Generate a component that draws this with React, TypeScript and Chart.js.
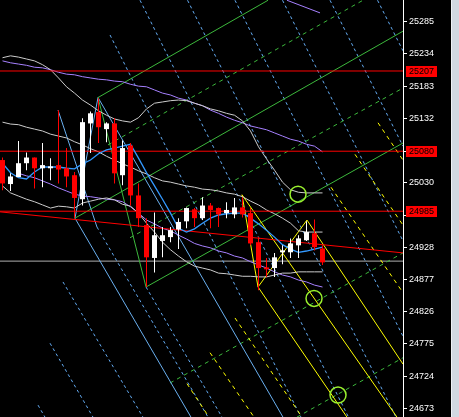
import React, { useEffect, useRef } from 'react';
import { Chart, registerables } from 'chart.js';

Chart.register(...registerables);

// ---- candles (bar index 0..40) ----
const OPEN = [25066, 25028, 25039, 25061, 25070, 25053, 25053, 25058, 25053, 25042, 25004, 25124, 25142, 25115, 25124, 25042, 25089, 25010, 24963, 24911, 24938, 24944, 24956, 24969, 24988, 24974, 24994, 24990, 24982, 24980, 24991, 24982, 24936, 24896, 24895, 24920, 24920, 24931, 24939, 24950, 24926];
const HIGH = [25070, 25045, 25096, 25078, 25070, 25093, 25069, 25145, 25085, 25047, 25132, 25143, 25164, 25126, 25132, 25097, 25093, 25029, 24974, 24983, 24960, 24960, 24974, 24991, 24990, 25007, 24998, 24991, 24999, 25006, 25007, 24990, 24944, 24911, 24919, 24931, 24942, 24947, 24969, 24972, 24931];
const LOW = [25018, 25017, 25039, 25050, 25021, 25023, 25034, 25029, 25023, 24974, 24994, 25077, 25093, 25094, 25029, 25026, 24994, 24960, 24865, 24888, 24912, 24936, 24925, 24958, 24960, 24971, 24958, 24960, 24974, 24974, 24975, 24931, 24860, 24881, 24881, 24901, 24911, 24911, 24938, 24923, 24900];
const CLOSE = [25029, 25040, 25061, 25070, 25053, 25058, 25056, 25051, 25040, 25006, 25126, 25140, 25118, 25124, 25045, 25085, 25010, 24974, 24912, 24947, 24947, 24955, 24968, 24990, 24974, 24994, 24987, 24980, 24987, 24991, 24980, 24934, 24895, 24893, 24912, 24923, 24934, 24942, 24952, 24928, 24904];

// ---- indicator series (one value per bar) ----
const MA_FAST = [25061, 25046, 25038, 25036, 25047, 25055, 25055, 25055, 25053, 25052, 25060, 25066, 25076, 25082, 25085, 25088, 25091, 25069, 25046, 25025, 25004, 24982, 24958, 24952, 24957, 24966, 24974, 24979, 24981, 24982, 24982, 24974, 24965, 24955, 24944, 24932, 24925, 24920, 24922, 24925, 24928];
const BAND_UPPER = [25228, 25231, 25229, 25226, 25223, 25217, 25209, 25196, 25182, 25172, 25161, 25153, 25144, 25137, 25131, 25128, 25126, 25133, 25147, 25156, 25158, 25160, 25161, 25160, 25156, 25152, 25147, 25144, 25140, 25137, 25128, 25112, 25087, 25068, 25050, 25031, 25019, 25015, 25014, 25014, 25014];
const BAND_MID = [25126, 25123, 25122, 25118, 25115, 25112, 25107, 25104, 25101, 25095, 25090, 25084, 25079, 25072, 25066, 25060, 25055, 25049, 25044, 25038, 25033, 25031, 25028, 25025, 25023, 25020, 25019, 25017, 25014, 25012, 25008, 25001, 24995, 24987, 24981, 24974, 24966, 24954, 24952, 24952, 24952];
const BAND_LOWER = [25025, 25014, 25009, 25004, 25000, 24995, 24990, 24993, 24992, 24990, 24998, 25001, 25004, 25006, 25003, 24996, 24993, 24982, 24966, 24952, 24936, 24924, 24914, 24905, 24898, 24895, 24892, 24887, 24886, 24884, 24882, 24882, 24881, 24881, 24884, 24887, 24887, 24889, 24889, 24889, 24889];
const ENV_UPPER = [25223, 25220, 25218, 25216, 25213, 25212, 25209, 25205, 25202, 25201, 25198, 25196, 25194, 25193, 25191, 25190, 25186, 25183, 25182, 25177, 25172, 25169, 25164, 25161, 25156, 25152, 25145, 25140, 25134, 25129, 25125, 25120, 25117, 25114, 25109, 25104, 25099, 25096, 25091, 25088, 25079];
const ENV_LOWER = [null, null, 25045, 25041, 25038, 25033, 25028, 25022, 25017, 25012, 25009, 25008, 25006, 25004, 25003, 25000, 24992, 24982, 24971, 24965, 24958, 24954, 24947, 24941, 24934, 24930, 24927, 24922, 24919, 24914, 24911, 24905, 24900, 24895, 24889, 24884, 24881, 24876, 24873, 24868, 24865];

// ---- axis ----
const Y_TICKS = [25285, 25234, 25183, 25132, 25080, 25030, 24979, 24928, 24877, 24826, 24775, 24724, 24673];
const Y_MIN = 24659.2;
const Y_MAX = 25319.4;
const X_MIN = -0.3125;
const X_MAX = 50.0625;

// ---- horizontal levels ----
const RED_LEVELS = [25207, 25080, 24985];
const GRAY_LEVELS = [24906];

// ---- trend objects: [barIndex, price] endpoints ----
const RED_TREND = [[[-0.31, 24984], [50.06, 24919]]];
const BLUE_SOLID = [
  [[6.94, 25145], [11.81, 24960]],
  [[9.06, 24974], [11.94, 25165]],
  [[11.94, 25165], [35.06, 24659]],
  [[9.06, 24974], [23.56, 24659]],
];
const BLUE_DASHED = [
  [[11.81, 24960], [25.69, 24659]],
  [[7.56, 24873], [17.56, 24659]],
  [[5.94, 24776], [11.31, 24659]],
  [[4.44, 24678], [5.31, 24659]],
  [[17.94, 24865], [27.44, 24659]],
  [[13.44, 25264], [37.31, 24659]],
  [[17.19, 25319], [43.25, 24659]],
  [[23.13, 25319], [49.19, 24659]],
  [[29.06, 25319], [50.06, 24787]],
  [[35.0, 25319], [50.06, 24938]],
  [[40.94, 25319], [50.06, 25088]],
  [[46.88, 25319], [50.06, 25239]],
];
const GREEN_SOLID = [
  [[11.94, 25165], [17.94, 24865]],
  [[11.94, 25165], [33.19, 25319]],
  [[9.06, 24974], [50.06, 25270]],
  [[17.94, 24865], [50.06, 25093]],
];
const GREEN_DASHED = [
  [[13.19, 25090], [45.06, 25319]],
  [[15.94, 24943], [50.06, 25180]],
  [[20.94, 24713], [50.06, 24919]],
  [[36.81, 24659], [50.06, 24753]],
];
const YELLOW_SOLID = [
  [[29.94, 25011], [31.94, 24865]],
  [[31.94, 24865], [38.06, 24971]],
  [[29.94, 25011], [49.31, 24659]],
  [[38.06, 24971], [50.06, 24743]],
  [[31.94, 24865], [43.06, 24659]],
];
const YELLOW_DASHED = [
  [[41.06, 25023], [50.06, 24856]],
  [[44.06, 25075], [50.06, 24963]],
  [[46.94, 25125], [50.06, 25066]],
  [[29.06, 24816], [37.44, 24659]],
  [[25.94, 24761], [31.44, 24659]],
  [[23.06, 24712], [25.81, 24659]],
];
const PURPLE_SEG = [[[35.56, 25319], [39.69, 25299]]];
const CIRCLES = [[36.94, 25012], [38.94, 24847], [41.94, 24694]];

const FONT = { family: '"Liberation Sans", Arial, sans-serif', size: 9 };

function segs(list: number[][][], color: string, dash: number[], order: number) {
  return list.map((pts) => ({
    type: 'line',
    data: pts.map(([x, y]) => ({ x, y })),
    borderColor: color,
    borderWidth: 1,
    borderDash: dash,
    pointRadius: 0,
    fill: false,
    tension: 0,
    order,
  }));
}

function series(vals: (number | null)[], color: string, order: number, width = 1) {
  return {
    type: 'line',
    data: vals.map((v, i) => ({ x: i, y: v })),
    borderColor: color,
    borderWidth: width,
    pointRadius: 0,
    fill: false,
    tension: 0,
    spanGaps: false,
    order,
  };
}

function levels(vals: number[], color: string, order: number) {
  return vals.map((v) => ({
    type: 'line',
    data: [{ x: X_MIN, y: v }, { x: X_MAX, y: v }],
    borderColor: color,
    borderWidth: 1,
    pointRadius: 0,
    fill: false,
    order,
  }));
}

const chromePlugin = {
  id: 'chrome',
  beforeDraw(chart: any) {
    const { ctx, width, height, chartArea } = chart;
    ctx.save();
    ctx.fillStyle = '#000000';
    ctx.fillRect(0, 0, width, height);
    ctx.fillStyle = '#d2d8e1';
    ctx.fillRect(chartArea.right + 49, 0, width, height);
    ctx.fillStyle = '#eef1f5';
    ctx.fillRect(chartArea.right + 48, 0, 1, height);
    ctx.restore();
  },
  afterDraw(chart: any) {
    const { ctx, chartArea } = chart;
    const ys = chart.scales.y;
    ctx.save();
    ctx.font = `${FONT.size}px ${FONT.family}`;
    ctx.textBaseline = 'middle';
    ctx.textAlign = 'left';
    RED_LEVELS.forEach((v) => {
      const py = Math.round(ys.getPixelForValue(v));
      ctx.fillStyle = '#ff0000';
      ctx.fillRect(chartArea.right + 3, py - 5, 31, 11);
      ctx.fillStyle = '#000000';
      ctx.fillText(String(v), chartArea.right + 6, py + 0.5);
    });
    ctx.restore();
  },
};

export default function App() {
  const ref = useRef<HTMLCanvasElement>(null);

  useEffect(() => {
    if (!ref.current) return;
    const idx = OPEN.map((_, i) => i);
    const colors = idx.map((i) => (CLOSE[i] >= OPEN[i] ? '#ffffff' : '#ff0000'));

    const datasets: any[] = [
      ...levels(GRAY_LEVELS, '#b0b0b0', 30),
      ...segs(BLUE_DASHED, '#63abf2', [3, 3], 29),
      ...segs(GREEN_DASHED, '#3cb83c', [4, 4], 28),
      ...segs(YELLOW_DASHED, '#ffff00', [4, 4], 27),
      ...segs(BLUE_SOLID, '#6ab0f0', [], 26),
      ...segs(GREEN_SOLID, '#3cb83c', [], 25),
      ...segs(YELLOW_SOLID, '#ffff00', [], 24),
      ...segs(PURPLE_SEG, '#a680ff', [], 23),
      series(ENV_UPPER, '#a680ff', 22),
      series(ENV_LOWER, '#a680ff', 22),
      series(BAND_UPPER, '#cccccc', 21),
      series(BAND_MID, '#cccccc', 21),
      series(BAND_LOWER, '#cccccc', 21),
      ...levels(RED_LEVELS, '#ff0000', 20),
      ...segs(RED_TREND, '#ff0000', [], 20),
      series(MA_FAST, '#3399ff', 19, 1.3),
      {
        type: 'line',
        data: CIRCLES.map(([x, y]) => ({ x, y })),
        showLine: false,
        pointRadius: 8,
        pointBorderWidth: 1.5,
        pointBorderColor: '#9af02e',
        pointBackgroundColor: 'rgba(0,0,0,0)',
        order: 18,
      },
      {
        type: 'bar',
        data: idx.map((i) => ({ x: i, y: [LOW[i], HIGH[i]] })),
        backgroundColor: colors,
        barThickness: 1,
        grouped: false,
        inflateAmount: 0,
        borderWidth: 0,
        order: 2,
      },
      {
        type: 'bar',
        data: idx.map((i) => ({ x: i, y: [OPEN[i], CLOSE[i]] })),
        backgroundColor: colors,
        barThickness: 5,
        minBarLength: 1,
        grouped: false,
        inflateAmount: 0,
        borderWidth: 0,
        order: 1,
      },
    ];

    const chart = new Chart(ref.current, {
      type: 'line',
      data: { datasets },
      plugins: [chromePlugin],
      options: {
        responsive: false,
        animation: false,
        events: [],
        layout: { padding: 0, autoPadding: false },
        plugins: { legend: { display: false }, tooltip: { enabled: false } },
        scales: {
          x: { type: 'linear', min: X_MIN, max: X_MAX, display: false, offset: false },
          y: {
            type: 'linear',
            position: 'right',
            min: Y_MIN,
            max: Y_MAX,
            beginAtZero: false,
            afterBuildTicks: (scale: any) => {
              scale.ticks = Y_TICKS.map((v) => ({ value: v }));
            },
            afterFit: (scale: any) => {
              scale.width = 56;
              scale.paddingTop = 0;
              scale.paddingBottom = 0;
            },
            grid: { drawOnChartArea: false, drawTicks: true, tickLength: 4, color: '#ffffff' },
            border: { display: true, color: '#ffffff' },
            ticks: {
              autoSkip: false,
              color: '#ffffff',
              padding: 2,
              font: FONT,
              callback: (v: any) => String(v),
            },
          },
        },
      } as any,
    } as any);
    return () => chart.destroy();
  }, []);

  return (
    <div style={{ position: 'absolute', left: 0, top: 0, width: 459, height: 417, background: '#000' }}>
      <canvas ref={ref} width={459} height={417} style={{ display: 'block' }} />
    </div>
  );
}
